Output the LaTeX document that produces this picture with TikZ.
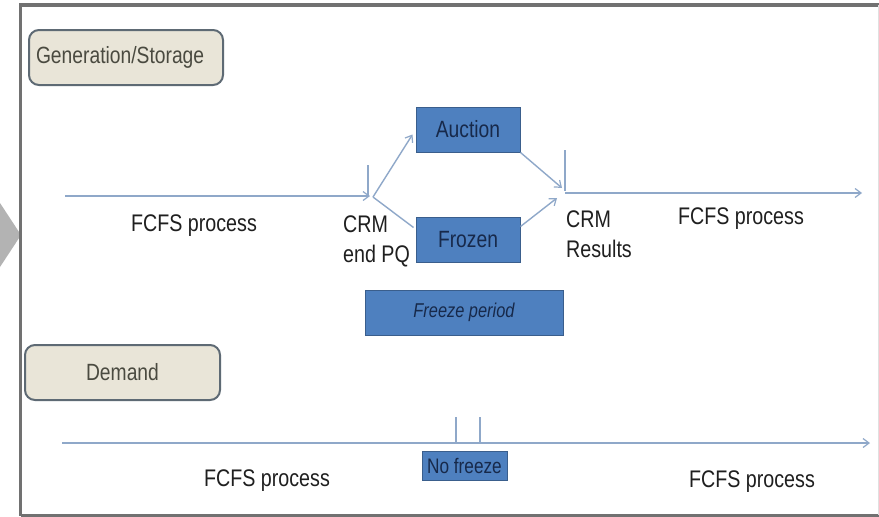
\documentclass[tikz,border=0pt]{standalone}
\usepackage{fontspec}
\setmainfont[FakeStretch=0.82]{Liberation Sans}
\usetikzlibrary{arrows.meta}
\definecolor{frame}{HTML}{717171}
\definecolor{chev}{HTML}{B3B3B3}
\definecolor{beige}{HTML}{E9E5D8}
\definecolor{tagedge}{HTML}{5E6A74}
\definecolor{tagtext}{HTML}{4A4A40}
\definecolor{tline}{HTML}{8FA8C9}
\definecolor{boxfill}{HTML}{4E80BF}
\definecolor{boxedge}{HTML}{3A5E8C}
\definecolor{boxtext}{HTML}{17294A}
\tikzset{
  tag/.style={draw=tagedge, line width=2pt, fill=beige, rounded corners=10pt,
    font=\fontsize{23.5}{26}\selectfont, text=tagtext, inner sep=0pt},
  bluebox/.style={draw=boxedge, line width=1pt, fill=boxfill, text=boxtext,
    font=\fontsize{23.5}{26}\selectfont, inner sep=0pt},
  lbl/.style={font=\fontsize{24}{30}\selectfont, text=black!88, inner sep=0pt, align=left},
  tl/.style={draw=tline, line width=1.4pt},
  tla/.style={tl, -{Straight Barb[length=6pt,width=9pt,line width=1.2pt]}},
}
\begin{document}
\begin{tikzpicture}[x=1pt,y=-1pt]
\useasboundingbox (0,0) rectangle (879,517);
\fill[white] (0,0) rectangle (879,517);
% left chevron
\fill[chev] (-20,203) -- (0,203) -- (21,235) -- (0,267) -- (-20,267) -- cycle;
% frame
\draw[frame, line width=4pt] (20.5,5) -- (879,5);
\draw[frame, line width=2.5pt] (20.5,3) -- (20.5,516);
\draw[frame, line width=3pt] (20.5,515) -- (879,515);
\draw[black!12, line width=1pt] (878,5) -- (878,515);
% tags
\node[tag, minimum height=55pt, text width=180pt, align=left, inner xsep=7pt, anchor=west] (gen) at (28,57.5) {Generation/Storage};
\node[tag, minimum width=195pt, minimum height=55pt, text depth=2pt] (dem) at (122.5,372.5) {Demand};
% blue boxes
\node[bluebox, minimum width=104pt, minimum height=45pt] (auction) at (468,129.5) {Auction};
\node[bluebox, minimum width=104pt, minimum height=45pt] (frozen) at (468,239.5) {Frozen};
\node[bluebox, minimum width=198pt, minimum height=45pt, font=\itshape\fontsize{20}{22}\selectfont] (freeze) at (464,312.5) {Freeze period};
\node[bluebox, minimum width=85pt, minimum height=29pt, font=\fontsize{21}{23}\selectfont] (nofreeze) at (464.5,465.5) {No freeze};
% top timeline
\coordinate (a1) at (65,196);
\coordinate (a2) at (370,196);
\coordinate (b1) at (373,197);
\coordinate (k1t) at (368,165);
\coordinate (k1b) at (368,196);
\coordinate (m1) at (562,188);
\coordinate (m2) at (557,198);
\coordinate (k2t) at (565,150);
\coordinate (k2b) at (565,191);
\coordinate (c1) at (565,193);
\coordinate (c2) at (862,193);
\draw[tla] (a1) -- (a2);
\draw[tl] (k1t) -- (k1b);
\draw[tla] (b1) -- ([shift={(-3,5)}]auction.west);
\draw[tl] (b1) -- ([shift={(-2,-12)}]frozen.west);
\draw[tla] (auction.south east) -- (m1);
\draw[tla] ([yshift=13]frozen.east) -- (m2);
\draw[tl] (k2t) -- (k2b);
\draw[tla] (c1) -- (c2);
% bottom timeline
\coordinate (d1) at (62,443);
\coordinate (d2) at (870,443);
\coordinate (n1t) at (456,417);
\coordinate (n1b) at (456,443);
\coordinate (n2t) at (480,417);
\coordinate (n2b) at (480,443);
\draw[tla] (d1) -- (d2);
\draw[tl] (n1t) -- (n1b);
\draw[tl] (n2t) -- (n2b);
% labels
\node[lbl, anchor=base] (f1) at (194,231) {FCFS process};
\node[lbl, anchor=base] (f2) at (741,224) {FCFS process};
\node[lbl, anchor=base] (f3) at (267,486) {FCFS process};
\node[lbl, anchor=base] (f4) at (752,487) {FCFS process};
\node[lbl, anchor=base west] (crm1) at (343,262) {CRM\\end PQ};
\node[lbl, anchor=base west] (crm2) at (566,257) {CRM\\Results};
\end{tikzpicture}
\end{document}
